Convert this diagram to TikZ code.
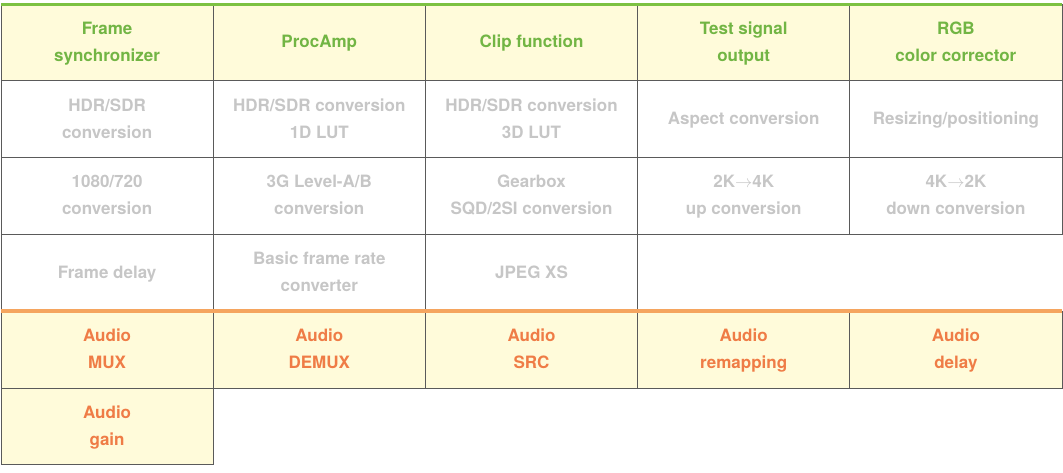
\documentclass[tikz,border=0pt]{standalone}
\usepackage{fontspec}
\setmainfont{TeX Gyre Heros}
\usetikzlibrary{positioning}
\definecolor{gridgray}{HTML}{5A5A5A}
\definecolor{cellfill}{HTML}{FFFBDA}
\definecolor{videogreen}{HTML}{72B544}
\definecolor{greenrule}{HTML}{7CC142}
\definecolor{audioorange}{HTML}{EF7C46}
\definecolor{orangerule}{HTML}{F5A55F}
\definecolor{optgray}{HTML}{C6C6C6}
\newcommand{\twolines}[2]{\strut#1\\#2\strut}
\tikzset{cell/.style = {draw=gridgray, line width=1pt, outer sep=0pt, inner sep=0pt,
                        minimum width=212.2pt, minimum height=76.8pt, align=center,
                        font=\fontsize{17}{27}\selectfont\bfseries},
         video/.style = {cell, fill=cellfill, text=videogreen},
         option/.style = {cell, text=optgray},
         audio/.style = {cell, fill=cellfill, text=audioorange}}

\begin{document}
\begin{tikzpicture}[x=1pt,y=-1pt]
        \useasboundingbox (0,0) rectangle (1063,472);
        % video functions
        \node[video, anchor=north west] (fsync) at (1,4) {\twolines{Frame}{synchronizer}};
        \node[video, right=0pt of fsync] (procamp) {\strut ProcAmp};
        \node[video, right=0pt of procamp] (clip) {\strut Clip function};
        \node[video, right=0pt of clip] (testsig) {\twolines{Test signal}{output}};
        \node[video, right=0pt of testsig] (rgbcc) {\twolines{RGB}{color corrector}};
        % options
        \node[option, below=0pt of fsync] (hdrsdr) {\twolines{HDR/SDR}{conversion}};
        \node[option, right=0pt of hdrsdr] (lutone) {\twolines{HDR/SDR conversion}{1D LUT}};
        \node[option, right=0pt of lutone] (lutthree) {\twolines{HDR/SDR conversion}{3D LUT}};
        \node[option, right=0pt of lutthree] (aspect) {\strut Aspect conversion};
        \node[option, right=0pt of aspect] (resize) {\strut Resizing/positioning};
        \node[option, below=0pt of hdrsdr] (hdconv) {\twolines{1080/720}{conversion}};
        \node[option, right=0pt of hdconv] (levelab) {\twolines{3G Level-A/B}{conversion}};
        \node[option, right=0pt of levelab] (gearbox) {\twolines{Gearbox}{SQD/2SI conversion}};
        \node[option, right=0pt of gearbox] (upconv) {\twolines{2K$\rightarrow$4K}{up conversion}};
        \node[option, right=0pt of upconv] (downconv) {\twolines{4K$\rightarrow$2K}{down conversion}};
        \node[option, below=0pt of hdconv] (fdelay) {\strut Frame delay};
        \node[option, right=0pt of fdelay] (basicfrc) {\twolines{Basic frame rate}{converter}};
        \node[option, right=0pt of basicfrc] (jpegxs) {\strut JPEG XS};
        % audio functions
        \node[audio, below=0pt of fdelay] (amux) {\twolines{Audio}{MUX}};
        \node[audio, right=0pt of amux] (ademux) {\twolines{Audio}{DEMUX}};
        \node[audio, right=0pt of ademux] (asrc) {\twolines{Audio}{SRC}};
        \node[audio, right=0pt of asrc] (aremap) {\twolines{Audio}{remapping}};
        \node[audio, right=0pt of aremap] (adelay) {\twolines{Audio}{delay}};
        \node[audio, below=0pt of amux] (again) {\twolines{Audio}{gain}};
        % rules
        \draw[greenrule, line width=3.5pt] ([yshift=-0.5pt]fsync.north west) -- ([yshift=-0.5pt]rgbcc.north east);
        \draw[orangerule, line width=4pt] (amux.north west) -- (adelay.north east);
    \end{tikzpicture}
\end{document}
